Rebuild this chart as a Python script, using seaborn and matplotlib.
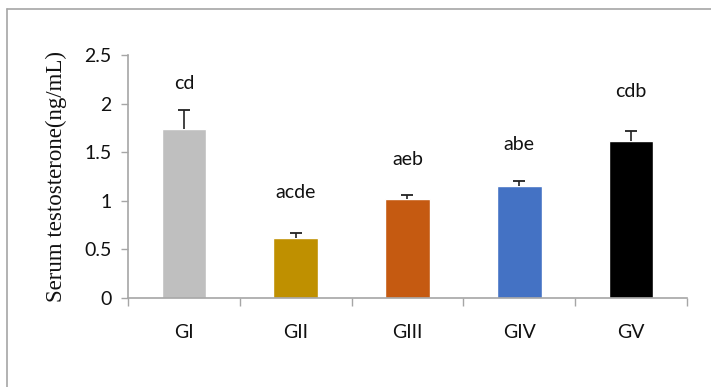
import matplotlib
matplotlib.use("Agg")
import matplotlib.pyplot as plt
import seaborn as sns
import pandas as pd
import numpy as np
from matplotlib.lines import Line2D

groups = ["GI", "GII", "GIII", "GIV", "GV"]
means = [1.74, 0.62, 1.02, 1.155, 1.615]
errors = [0.19, 0.045, 0.04, 0.045, 0.105]
letters = ["cd", "acde", "aeb", "abe", "cdb"]
letter_y = [2.21, 1.09, 1.42, 1.58, 2.12]
colors = ["#BFBFBF", "#BF9000", "#C55A11", "#4472C4", "#000000"]

sns.set_theme(style="white")
plt.rcParams["font.family"] = ["Lato", "DejaVu Sans"]

df = pd.DataFrame({"group": groups, "value": means})

fig = plt.figure(figsize=(7.11, 3.87), dpi=100)
ax = fig.add_axes([0.18, 0.230, 0.786, 0.628])

sns.barplot(data=df, x="group", y="value", hue="group", palette=colors,
            width=0.4, dodge=False, legend=False, ax=ax, saturation=1)

# upper-only error bars: stem from bar top plus a single cap
x = np.arange(len(groups))
tops = np.array(means) + np.array(errors)
ax.vlines(x, means, tops, colors="#222222", lw=1.2, zorder=3)
ax.scatter(x, tops, marker="_", s=80, color="#222222", linewidths=1.3, zorder=3)

for xi, lab, ly in zip(x, letters, letter_y):
    ax.text(xi, ly, lab, ha="center", va="center", fontsize=14, color="#111111")

ax.set_xlim(-0.5, len(groups) - 0.5)
ax.set_ylim(0, 2.5)
ax.set_yticks([0, 0.5, 1, 1.5, 2, 2.5])
ax.set_yticklabels(["0", "0.5", "1", "1.5", "2", "2.5"])
ax.set_xlabel("")
ax.set_ylabel("Serum testosterone(ng/mL)", family=["Liberation Serif"],
              fontsize=16.5, color="#111111", labelpad=12)

for side in ["top", "right"]:
    ax.spines[side].set_visible(False)
for side in ["left", "bottom"]:
    ax.spines[side].set_color("#A6A6A6")
    ax.spines[side].set_linewidth(1.2)

ax.tick_params(axis="y", which="major", left=True, length=5, width=1,
               color="#A6A6A6", labelsize=14, labelcolor="#111111", pad=7)
ax.tick_params(axis="x", which="major", bottom=False, labelsize=14,
               labelcolor="#111111", pad=13)
ax.set_xticks(np.arange(-0.5, len(groups)), minor=True)
ax.tick_params(axis="x", which="minor", bottom=True, length=6, width=1,
               color="#A6A6A6")

# outer frame (left and top edges)
fig.add_artist(Line2D([0.0105, 0.0105], [0.0, 0.977], transform=fig.transFigure,
                      color="#A6A6A6", lw=1.2))
fig.add_artist(Line2D([0.0105, 1.0], [0.977, 0.977], transform=fig.transFigure,
                      color="#A6A6A6", lw=1.2))

fig.savefig("out.png", dpi=100)
